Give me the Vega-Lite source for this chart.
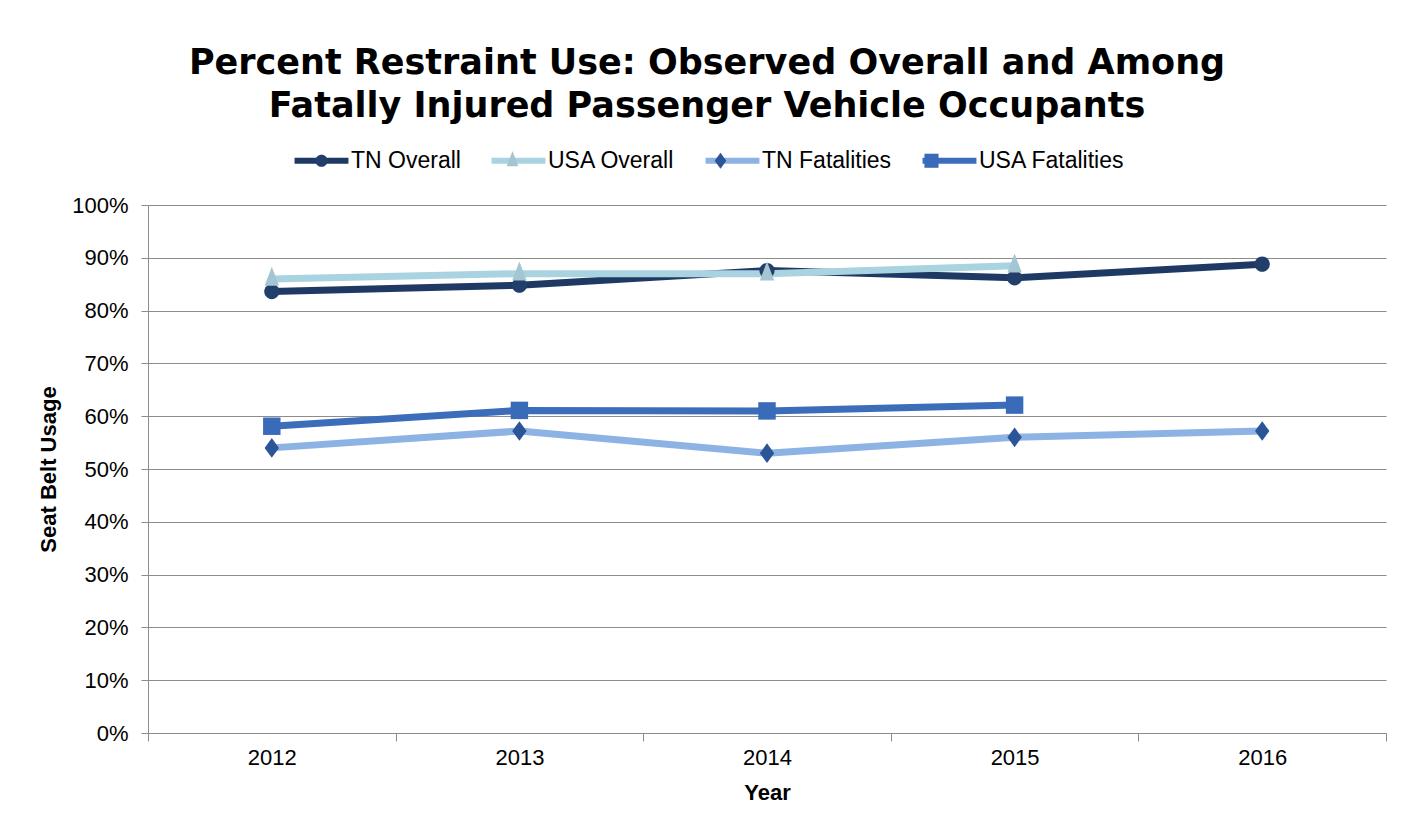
{
  "$schema": "https://vega.github.io/schema/vega-lite/v6.json",
  "width": 1238,
  "height": 528,
  "autosize": "none",
  "padding": {"left": 148, "top": 205, "right": 28, "bottom": 96},
  "background": "white",
  "config": {
    "font": "Liberation Sans",
    "view": {"stroke": null}
  },
  "title": {
    "text": ["Percent Restraint Use: Observed Overall and Among", "Fatally Injured Passenger Vehicle Occupants"],
    "font": "DejaVu Sans",
    "fontSize": 35,
    "fontWeight": "bold",
    "color": "#000000",
    "anchor": "middle",
    "frame": "group",
    "dx": -60,
    "offset": 25,
    "lineHeight": 43
  },
  "data": {
    "values": [
      {"year": "2012", "series": "TN Overall", "value": 0.836},
      {"year": "2013", "series": "TN Overall", "value": 0.848},
      {"year": "2014", "series": "TN Overall", "value": 0.876},
      {"year": "2015", "series": "TN Overall", "value": 0.862},
      {"year": "2016", "series": "TN Overall", "value": 0.888},
      {"year": "2012", "series": "USA Overall", "value": 0.86},
      {"year": "2013", "series": "USA Overall", "value": 0.87},
      {"year": "2014", "series": "USA Overall", "value": 0.87},
      {"year": "2015", "series": "USA Overall", "value": 0.885},
      {"year": "2012", "series": "TN Fatalities", "value": 0.54},
      {"year": "2013", "series": "TN Fatalities", "value": 0.572},
      {"year": "2014", "series": "TN Fatalities", "value": 0.53},
      {"year": "2015", "series": "TN Fatalities", "value": 0.56},
      {"year": "2016", "series": "TN Fatalities", "value": 0.572},
      {"year": "2012", "series": "USA Fatalities", "value": 0.581},
      {"year": "2013", "series": "USA Fatalities", "value": 0.611},
      {"year": "2014", "series": "USA Fatalities", "value": 0.61},
      {"year": "2015", "series": "USA Fatalities", "value": 0.621}
    ]
  },
  "encoding": {
    "x": {
      "field": "year",
      "type": "ordinal",
      "bandPosition": 0.5,
      "scale": {"type": "band", "paddingInner": 0, "paddingOuter": 0},
      "axis": {
        "title": "Year",
        "titleFontSize": 22,
        "titleFontWeight": "bold",
        "titleColor": "#000000",
        "titlePadding": 14,
        "labelFontSize": 22,
        "labelColor": "#000000",
        "labelAngle": 0,
        "labelPadding": 6,
        "tickBand": "extent",
        "tickSize": 8,
        "tickColor": "#8c8c8c",
        "domainColor": "#8c8c8c",
        "grid": false
      }
    },
    "y": {
      "field": "value",
      "type": "quantitative",
      "scale": {"domain": [0, 1], "nice": false},
      "axis": {
        "title": "Seat Belt Usage",
        "titleFontSize": 22,
        "titleFontWeight": "bold",
        "titleColor": "#000000",
        "titlePadding": 11,
        "format": "~%",
        "values": [0, 0.1, 0.2, 0.3, 0.4, 0.5, 0.6, 0.7, 0.8, 0.9, 1],
        "labelFontSize": 22,
        "labelColor": "#000000",
        "labelPadding": 13,
        "tickSize": 7,
        "tickColor": "#8c8c8c",
        "domainColor": "#8c8c8c",
        "grid": true,
        "gridColor": "#8c8c8c",
        "gridWidth": 1
      }
    }
  },
  "layer": [
    {
      "mark": {"type": "line", "strokeWidth": 7, "strokeCap": "round", "strokeJoin": "round"},
      "encoding": {
        "color": {
          "field": "series",
          "type": "nominal",
          "scale": {
            "domain": ["TN Overall", "USA Overall", "TN Fatalities", "USA Fatalities"],
            "range": ["#1e3a64", "#a9d3e0", "#8cb3e3", "#3b6dbb"]
          },
          "legend": {
            "orient": "none",
            "legendX": 162,
            "legendY": -56,
            "direction": "horizontal",
            "title": null,
            "symbolType": "M-4.4,0H4.4",
            "symbolSize": 150,
            "symbolStrokeWidth": 6,
            "labelFontSize": 23,
            "labelColor": "#000000",
            "labelOffset": 18,
            "columnPadding": 18,
            "zindex": 0
          }
        }
      }
    },
    {
      "mark": {"type": "point", "filled": true, "opacity": 1, "size": 230, "strokeWidth": 1},
      "encoding": {
        "color": {
          "field": "series",
          "type": "nominal",
          "scale": {
            "domain": ["TN Overall", "USA Overall", "TN Fatalities", "USA Fatalities"],
            "range": ["#223f6b", "#a4c6d3", "#2a5597", "#3a6bb8"]
          },
          "legend": {
            "orient": "none",
            "legendX": 162,
            "legendY": -56,
            "direction": "horizontal",
            "title": null,
            "symbolSize": 150,
            "symbolOpacity": 1,
            "labelFontSize": 23,
            "labelColor": "transparent",
            "labelOffset": 18,
            "columnPadding": 18,
            "zindex": 1
          }
        },
        "shape": {
          "field": "series",
          "type": "nominal",
          "scale": {
            "domain": ["TN Overall", "USA Overall", "TN Fatalities", "USA Fatalities"],
            "range": [
              "M-4.9,0M4.9,0M1,0A1,1,0,1,1,-1,0A1,1,0,1,1,1,0Z",
              "M-4.9,0M4.9,0M0,-1.6L0.95,0.9L-0.95,0.9Z",
              "M-4.9,0M4.9,0M0,-1.3L0.95,0L0,1.3L-0.95,0Z",
              "M-4.9,0M4.9,0M-1.15,-1.15H1.15V1.15H-1.15Z"
            ]
          },
          "legend": {
            "orient": "none",
            "legendX": 162,
            "legendY": -56,
            "direction": "horizontal",
            "title": null,
            "symbolSize": 150,
            "symbolOpacity": 1,
            "labelFontSize": 23,
            "labelColor": "transparent",
            "labelOffset": 18,
            "columnPadding": 18,
            "zindex": 1
          }
        }
      }
    }
  ],
  "resolve": {"scale": {"color": "independent", "shape": "independent"}}
}
